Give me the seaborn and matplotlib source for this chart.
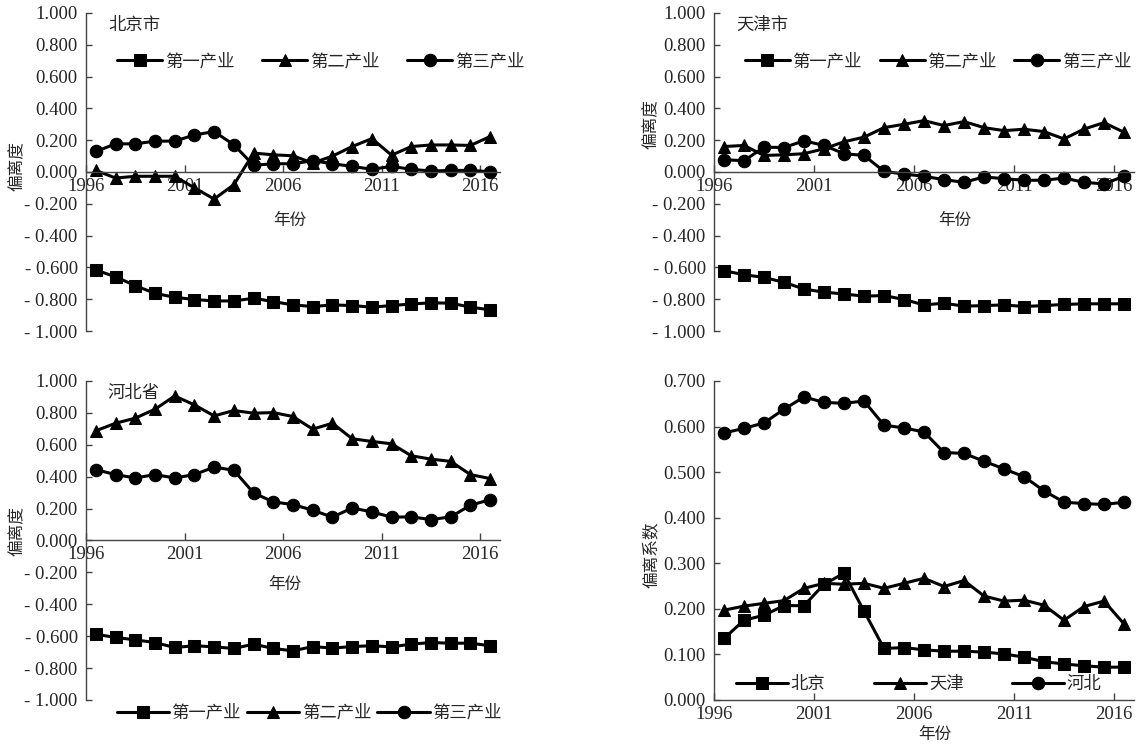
import numpy as np
import pandas as pd
import matplotlib
matplotlib.use("Agg")
import matplotlib.pyplot as plt
import seaborn as sns
from matplotlib.ticker import FuncFormatter, MultipleLocator

sns.set_theme(style="white")
plt.rcParams['font.family'] = ['Liberation Serif', 'Noto Sans CJK SC']
plt.rcParams['axes.unicode_minus'] = False

# data
years = list(range(1996, 2017))
sectors = ['第一产业', '第二产业', '第三产业']

bj_1 = [-0.617, -0.659, -0.715, -0.763, -0.788, -0.802, -0.811, -0.811, -0.794, -0.815, -0.836,
        -0.846, -0.836, -0.840, -0.850, -0.840, -0.830, -0.823, -0.825, -0.850, -0.867]
bj_2 = [0.010, -0.038, -0.027, -0.027, -0.027, -0.100, -0.170, -0.080, 0.119, 0.108, 0.102,
        0.056, 0.100, 0.160, 0.210, 0.106, 0.160, 0.170, 0.170, 0.167, 0.223]
bj_3 = [0.129, 0.177, 0.177, 0.194, 0.194, 0.233, 0.254, 0.171, 0.042, 0.052, 0.052,
        0.071, 0.052, 0.035, 0.017, 0.035, 0.017, 0.006, 0.010, 0.010, 0.002]

tj_1 = [-0.621, -0.646, -0.663, -0.694, -0.736, -0.756, -0.767, -0.781, -0.777, -0.802, -0.836,
        -0.825, -0.844, -0.840, -0.836, -0.846, -0.840, -0.833, -0.829, -0.829, -0.829]
tj_2 = [0.160, 0.167, 0.104, 0.108, 0.115, 0.146, 0.190, 0.219, 0.279, 0.300, 0.323,
        0.292, 0.317, 0.279, 0.260, 0.269, 0.254, 0.208, 0.270, 0.310, 0.250]
tj_3 = [0.077, 0.071, 0.156, 0.154, 0.196, 0.167, 0.115, 0.104, 0.004, -0.013, -0.027,
        -0.048, -0.065, -0.031, -0.042, -0.052, -0.052, -0.038, -0.065, -0.075, -0.027]

hb_1 = [-0.588, -0.608, -0.623, -0.640, -0.671, -0.660, -0.667, -0.677, -0.650, -0.677, -0.692,
        -0.665, -0.675, -0.665, -0.660, -0.667, -0.650, -0.640, -0.644, -0.644, -0.660]
hb_2 = [0.688, 0.735, 0.767, 0.823, 0.906, 0.850, 0.781, 0.815, 0.798, 0.802, 0.777,
        0.698, 0.735, 0.638, 0.621, 0.606, 0.531, 0.510, 0.496, 0.413, 0.388]
hb_3 = [0.444, 0.413, 0.392, 0.413, 0.392, 0.413, 0.460, 0.440, 0.298, 0.242, 0.225,
        0.190, 0.146, 0.204, 0.179, 0.146, 0.148, 0.131, 0.148, 0.221, 0.256]

regions = ['北京', '天津', '河北']
coef_bj = [0.135, 0.175, 0.186, 0.207, 0.207, 0.254, 0.278, 0.195, 0.113, 0.115, 0.110,
           0.107, 0.107, 0.105, 0.101, 0.094, 0.084, 0.079, 0.075, 0.072, 0.072]
coef_tj = [0.197, 0.206, 0.212, 0.218, 0.245, 0.256, 0.254, 0.256, 0.245, 0.256, 0.267,
           0.249, 0.262, 0.228, 0.217, 0.219, 0.208, 0.175, 0.205, 0.217, 0.167]
coef_hb = [0.586, 0.596, 0.608, 0.638, 0.665, 0.653, 0.651, 0.656, 0.603, 0.597, 0.588,
           0.543, 0.541, 0.524, 0.507, 0.490, 0.459, 0.434, 0.431, 0.429, 0.434]

markers = ['s', '^', 'o']
msizes = [9, 8.5, 9]

# points sit in the middle of each year slot (Excel category axis)
xs = np.array(years) + 0.5


def fmt(v, p):
    if v < -1e-9:
        return "- %.3f" % abs(v)
    return "%.3f" % v


def style_axis(ax, ymin, ymax, step):
    ax.set_xlim(1996, 2017)
    ax.set_ylim(ymin, ymax)
    ax.yaxis.set_major_locator(MultipleLocator(step))
    ax.yaxis.set_major_formatter(FuncFormatter(fmt))
    ax.set_xticks([1996, 2001, 2006, 2011, 2016])
    ax.set_xticklabels(['1996', '2001', '2006', '2011', '2016'])
    for s in ['top', 'right']:
        ax.spines[s].set_visible(False)
    for s in ['left', 'bottom']:
        ax.spines[s].set_color('#444444')
        ax.spines[s].set_linewidth(1.0)
    ax.spines['bottom'].set_position(('data', 0))
    ax.tick_params(axis='y', direction='in', length=4, width=1, color='#444444',
                   labelsize=13.5, pad=6, left=True)
    ax.tick_params(axis='x', direction='in', length=5, width=1, color='#444444',
                   labelsize=13.5, pad=4, bottom=True)
    ax.grid(False)


fig = plt.figure(figsize=(11.45, 7.46), dpi=100)
ax_tl = fig.add_axes([0.0751, 0.5563, 0.3616, 0.4263])
ax_tr = fig.add_axes([0.6236, 0.5563, 0.3668, 0.4263])
ax_bl = fig.add_axes([0.0751, 0.0617, 0.3616, 0.4276])
ax_br = fig.add_axes([0.6236, 0.0617, 0.3668, 0.4276])

panels = [
    (ax_tl, '北京市', [bj_1, bj_2, bj_3]),
    (ax_tr, '天津市', [tj_1, tj_2, tj_3]),
    (ax_bl, '河北省', [hb_1, hb_2, hb_3]),
]

for ax, name, series in panels:
    for lab, vals, m, ms in zip(sectors, series, markers, msizes):
        sns.lineplot(x=xs, y=vals, ax=ax, color='black', linewidth=2.2, marker=m,
                     markersize=ms, markeredgecolor='black', label=lab)
    style_axis(ax, -1.0, 1.0, 0.2)
    ax.text(0.053, 0.985, name, transform=ax.transAxes, ha='left', va='top', fontsize=12.5)

for lab, vals, m, ms in zip(regions, [coef_bj, coef_tj, coef_hb], markers, msizes):
    sns.lineplot(x=xs, y=vals, ax=ax_br, color='black', linewidth=2.2, marker=m,
                 markersize=ms, markeredgecolor='black', label=lab)
style_axis(ax_br, 0.0, 0.7, 0.1)

# axis labels
ylabs = [(ax_tl, '偏离度', -0.145, 0.52), (ax_tr, '偏离度', -0.128, 0.65),
         (ax_bl, '偏离度', -0.145, 0.53), (ax_br, '偏离系数', -0.128, 0.455)]
for ax, t, x, y in ylabs:
    ax.set_ylabel(t, fontsize=12, rotation=90)
    ax.yaxis.set_label_coords(x, y)

xlabs = [(ax_tl, 0.493, 0.372), (ax_tr, 0.574, 0.372), (ax_bl, 0.48, 0.387), (ax_br, 0.526, -0.085)]
for ax, x, y in xlabs:
    ax.set_xlabel('年份', fontsize=12)
    ax.xaxis.set_label_coords(x, y)

# legends
leg_kw = dict(frameon=False, ncol=3, fontsize=12.5, handletextpad=0.15,
              numpoints=1, borderaxespad=0)
ax_tl.legend(loc='center left', bbox_to_anchor=(0.058, 0.846), handlelength=2.6,
             columnspacing=1.6, **leg_kw)
ax_tr.legend(loc='center left', bbox_to_anchor=(0.057, 0.846), handlelength=2.6,
             columnspacing=1.0, **leg_kw)
ax_bl.legend(loc='center left', bbox_to_anchor=(0.058, -0.042), handlelength=3.0,
             columnspacing=0.35, **leg_kw)
ax_br.legend(loc='center left', bbox_to_anchor=(0.036, 0.047), handlelength=3.0,
             columnspacing=2.8, **leg_kw)

fig.savefig('out.png', dpi=100)
